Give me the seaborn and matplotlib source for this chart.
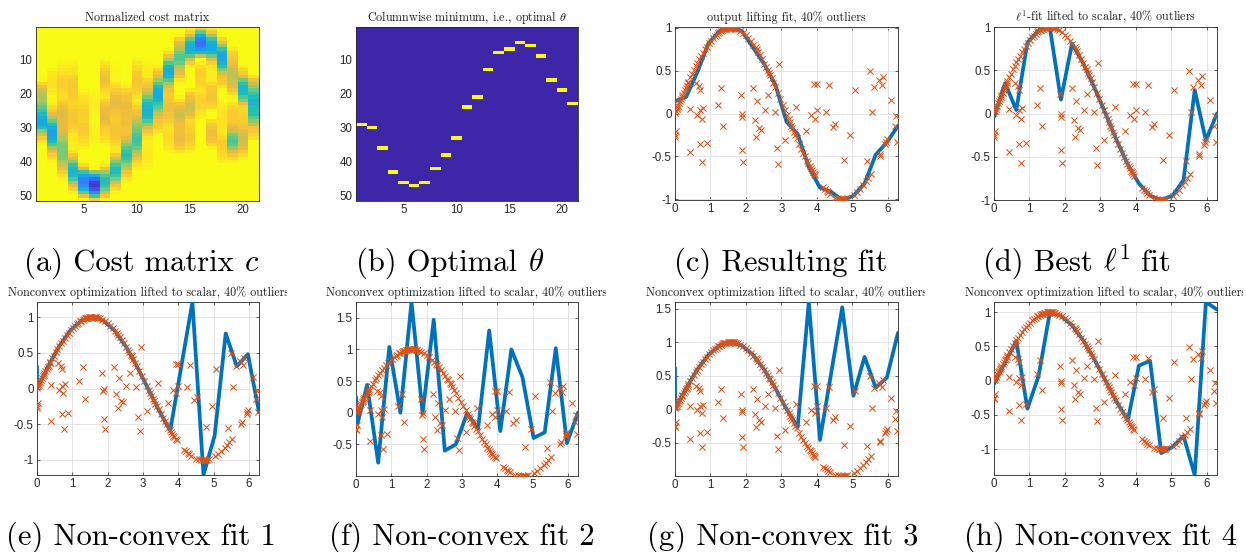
import numpy as np
import pandas as pd
import matplotlib
matplotlib.use("Agg")
import matplotlib.pyplot as plt
from matplotlib.colors import LinearSegmentedColormap
from matplotlib.transforms import Bbox, TransformedBbox
import seaborn as sns

# ---------------------------------------------------------------- data
# samples lying on the signal
inlier_x = [0.01, 0.03, 0.05, 0.07, 0.09, 0.12, 0.14, 0.17, 0.19, 0.21, 0.24, 0.27,
            0.30, 0.33, 0.38, 0.43, 0.48, 0.53, 0.58, 0.63, 0.68, 0.73, 0.79, 0.85,
            0.90, 0.96, 1.02, 1.07, 1.12, 1.17, 1.21, 1.25, 1.29, 1.32, 1.36, 1.39,
            1.42, 1.45, 1.48, 1.51, 1.54, 1.57, 1.60, 1.63, 1.66, 1.69, 1.72, 1.78,
            1.84, 1.92, 2.00, 2.07, 2.14, 2.21, 2.27, 2.30, 2.34, 2.40, 2.46, 2.52,
            2.57, 2.61, 2.65, 2.68, 2.72, 2.77, 2.83, 2.90, 2.97, 3.04, 3.10, 3.16,
            3.20, 3.24, 3.28, 3.31, 3.35, 3.39, 3.44, 3.50, 3.56, 3.62, 3.67, 3.72,
            3.76, 3.80, 3.83, 3.86, 3.89, 3.92, 3.95, 4.17, 4.22, 4.27, 4.31, 4.36,
            4.51, 4.58, 4.64, 4.69, 4.72, 4.75, 4.78, 4.81, 4.86, 5.03, 5.13, 5.21,
            5.31, 5.37, 5.44, 5.51, 5.77, 5.79, 5.95, 5.98]
inlier_y = [0.01, 0.03, 0.05, 0.07, 0.09, 0.12, 0.14, 0.17, 0.19, 0.21, 0.24, 0.27,
            0.30, 0.32, 0.37, 0.42, 0.46, 0.51, 0.55, 0.59, 0.63, 0.67, 0.71, 0.75,
            0.78, 0.82, 0.85, 0.88, 0.90, 0.92, 0.94, 0.95, 0.96, 0.97, 0.98, 0.98,
            0.99, 0.99, 1.00, 1.00, 1.00, 1.00, 1.00, 1.00, 1.00, 0.99, 0.99, 0.98,
            0.96, 0.94, 0.91, 0.88, 0.84, 0.80, 0.77, 0.75, 0.72, 0.68, 0.63, 0.58,
            0.54, 0.51, 0.47, 0.45, 0.41, 0.36, 0.31, 0.24, 0.17, 0.10, 0.04, -0.02,
            -0.06, -0.10, -0.14, -0.17, -0.21, -0.25, -0.29, -0.35, -0.41, -0.46, -0.50, -0.55,
            -0.58, -0.61, -0.63, -0.66, -0.68, -0.70, -0.72, -0.86, -0.88, -0.90, -0.92, -0.94,
            -0.98, -0.99, -1.00, -1.00, -1.00, -1.00, -1.00, -1.00, -0.99, -0.95, -0.92, -0.88,
            -0.83, -0.79, -0.75, -0.70, -0.49, -0.47, -0.33, -0.30]

# corrupted samples
outlier_x = [0.00, 0.02, 0.01, 0.41, 0.41, 0.63, 0.71, 0.78, 0.75, 0.70, 0.89, 0.77,
             0.60, 0.68, 0.70, 0.36, 1.20, 1.31, 1.35, 1.85, 1.90, 1.88, 1.90, 1.92,
             2.19, 2.25, 2.28, 2.31, 2.37, 2.43, 2.53, 2.62, 2.81, 2.86, 2.91, 2.93,
             3.11, 3.42, 3.70, 3.84, 3.94, 3.93, 4.00, 4.00, 4.25, 4.34, 4.45, 4.52,
             4.77, 4.94, 5.06, 5.41, 5.50, 5.56, 5.62, 5.74, 5.86, 5.83, 5.93, 6.10,
             6.19, 6.24, 6.26]
outlier_y = [-0.25, -0.20, -0.27, -0.45, 0.05, -0.02, 0.04, 0.06, -0.06, -0.35, -0.34, -0.57,
             0.35, 0.32, 0.27, 0.35, 0.10, 0.30, -0.14, 0.22, -0.01, -0.04, -0.42, -0.57,
             0.30, -0.07, -0.27, 0.15, -0.17, -0.19, 0.04, 0.22, 0.02, -0.40, -0.59, 0.58,
             -0.31, 0.08, -0.20, -0.02, -0.06, 0.34, 0.34, 0.04, 0.02, 0.33, -0.16, -0.12,
             -0.54, -0.25, 0.27, -0.55, 0.49, 0.02, 0.31, 0.39, 0.43, 0.33, -0.36, 0.16,
             -0.15, -0.03, -0.33]

# lifting grid: 21 nodes in x, 51 levels in theta
n_nodes = 21
n_levels = 51
theta_min, theta_max = -1.2, 1.2
loss_cap = 0.22

# row index (1-based) of the columnwise minimum
optimal_rows = [29, 30, 36, 43, 46, 47, 46, 42, 38, 33, 24, 21, 13, 8, 7, 5, 6, 9, 16, 19, 23]

node_x = [0.000, 0.314, 0.628, 0.942, 1.257, 1.571, 1.885, 2.199, 2.513, 2.827, 3.142,
          3.456, 3.770, 4.084, 4.398, 4.712, 5.027, 5.341, 5.655, 5.969, 6.283]

fit_l1 = [-0.04, 0.35, 0.04, 0.82, 0.96, 1.00, 0.16, 0.81, 0.58, 0.30, 0.00,
          -0.31, -0.59, -0.81, -0.95, -1.00, -0.95, -0.77, 0.27, -0.31, 0.00]

fit1_x = [0.000, 0.005] + node_x[1:]
fit1_y = [0.31, 0.00, 0.31, 0.59, 0.81, 0.95, 1.00, 0.95, 0.81, 0.59, 0.31, 0.00,
          -0.31, -0.59, 0.31, 1.21, -1.21, -0.66, 0.77, 0.31, 0.48, -0.33]

fit2_x = [0.000, 0.040] + node_x[1:]
fit2_y = [0.25, -0.18, 0.44, -0.79, 1.04, 0.00, 1.75, -0.01, 1.47, -0.60, -0.50, -0.01,
          -0.25, 1.30, -0.29, 1.00, 0.56, -0.40, -0.31, 1.02, -0.48, 0.00]

fit3_x = [0.000, 0.005] + node_x[1:]
fit3_y = [0.62, 0.00, 0.31, 0.59, 0.81, 0.95, 1.00, 0.95, 0.81, 0.59, 0.31, 0.00,
          -0.27, 1.60, -0.46, 0.53, 1.52, 0.20, 0.78, 0.32, 0.47, 1.14]

fit4_y = [-0.05, 0.27, 0.58, -0.41, 0.07, 0.99, 0.95, 0.81, 0.59, 0.31, 0.00,
          -0.31, -0.58, 0.22, 0.29, -1.06, -0.97, -0.81, -1.38, 1.15, 1.04]

# ---------------------------------------------------------------- style
parula = LinearSegmentedColormap.from_list("parula", [
    (0.00, (0.242, 0.150, 0.660)),
    (0.10, (0.279, 0.263, 0.900)),
    (0.20, (0.247, 0.415, 0.992)),
    (0.30, (0.145, 0.565, 0.951)),
    (0.40, (0.072, 0.680, 0.875)),
    (0.50, (0.133, 0.741, 0.722)),
    (0.60, (0.347, 0.795, 0.539)),
    (0.70, (0.650, 0.785, 0.365)),
    (0.80, (0.924, 0.730, 0.253)),
    (0.90, (0.985, 0.800, 0.180)),
    (1.00, (0.977, 0.984, 0.081)),
])

BLUE = "#0072BD"
ORANGE = "#D95319"
AXCOL = "#262626"

sns.set_style("white")
plt.rcParams.update({
    "font.family": ["Liberation Sans", "DejaVu Sans"],
    "mathtext.fontset": "cm",
    "axes.unicode_minus": False,
})

W, H = 1246, 552
fig = plt.figure(figsize=(W / 100, H / 100), dpi=100)
renderer = fig.canvas.get_renderer()


def add_axes(left, top, right, bottom):
    return fig.add_axes([left / W, 1 - bottom / H, (right - left) / W, (bottom - top) / H])


def style_axes(ax, grid=True):
    for s in ax.spines.values():
        s.set_visible(True)
        s.set_color(AXCOL)
        s.set_linewidth(0.6)
    ax.tick_params(direction="in", length=2.5, width=0.5, color=AXCOL,
                   labelsize=8.3, labelcolor=AXCOL, pad=2.5,
                   top=True, right=True, bottom=True, left=True)
    for lab in ax.get_xticklabels() + ax.get_yticklabels():
        lab.set_fontfamily("Liberation Sans")
    if grid:
        ax.grid(True, color="#DFDFDF", linewidth=0.6)
        ax.set_axisbelow(True)


def set_title(ax, text, clip_left, clip_right):
    t = ax.set_title(text, family="cmr10", fontsize=8.7, color="#1a1a1a", pad=4.0)
    box = Bbox.from_extents(clip_left / W, 0, clip_right / W, 1)
    t.set_clip_box(TransformedBbox(box, fig.transFigure))
    t.set_clip_on(True)


CAP_SIZE = 22


def caption(xc, yb, words):
    """Words are laid out left to right, separated by one cmr10 space, centred on xc."""
    texts = [fig.text(0, 1 - yb / H, w, family="cmr10", fontsize=CAP_SIZE,
                      ha="left", va="baseline", color="black") for w in words]
    probe_a = fig.text(0, 0, "x x", family="cmr10", fontsize=CAP_SIZE)
    probe_b = fig.text(0, 0, "xx", family="cmr10", fontsize=CAP_SIZE)
    space = (probe_a.get_window_extent(renderer).width
             - probe_b.get_window_extent(renderer).width)
    probe_a.remove()
    probe_b.remove()
    widths = [t.get_window_extent(renderer).width for t in texts]
    total = sum(widths) + space * (len(words) - 1)
    x = xc - total / 2
    for t, w in zip(texts, widths):
        t.set_x(x / W)
        x += w + space


def fmt(v):
    return f"{v:g}"


all_x = np.array(inlier_x + outlier_x)
all_y = np.array(inlier_y + outlier_y)
theta = np.linspace(theta_min, theta_max, n_levels)
nodes = np.linspace(0, 2 * np.pi, n_nodes)
spacing = nodes[1] - nodes[0]

# truncated quadratic cost of each level at each node, hat-weighted by sample position
weights = np.clip(1 - np.abs(all_x[:, None] - nodes[None, :]) / spacing, 0, None)
residual = np.minimum((all_y[:, None] - theta[None, :]) ** 2, loss_cap ** 2)
cost = residual.T @ weights
cost = cost / cost.max(axis=0, keepdims=True)

argmin_map = np.zeros((n_levels, n_nodes))
for j, r in enumerate(optimal_rows):
    argmin_map[r - 1, j] = 1.0

fit_lifted = [theta[r - 1] for r in optimal_rows]

samples = pd.DataFrame({"x": all_x, "y": all_y})


def heat_panel(ax, mat):
    sns.heatmap(mat, ax=ax, cmap=parula, cbar=False, vmin=0, vmax=1,
                xticklabels=False, yticklabels=False)
    ax.set_xticks([4.5, 9.5, 14.5, 19.5])
    ax.set_xticklabels(["5", "10", "15", "20"], rotation=0)
    ax.set_yticks([9.5, 19.5, 29.5, 39.5, 49.5])
    ax.set_yticklabels(["10", "20", "30", "40", "50"], rotation=0)
    ax.set_xlabel("")
    ax.set_ylabel("")
    style_axes(ax, grid=False)


def fit_panel(ax, fx, fy, yticks):
    sns.lineplot(x=fx, y=fy, ax=ax, color=BLUE, linewidth=2.7, sort=False,
                 estimator=None, zorder=3)
    sns.scatterplot(data=samples, x="x", y="y", ax=ax, marker="x", color=ORANGE,
                    s=20, linewidth=0.75, zorder=4)
    ylo = min(min(fy), samples["y"].min())
    yhi = max(max(fy), samples["y"].max())
    ax.set_xlim(0, 2 * np.pi)
    ax.set_ylim(ylo, yhi)
    ax.set_xticks(range(7))
    ax.set_xticklabels([str(i) for i in range(7)])
    ax.set_yticks(yticks)
    ax.set_yticklabels([fmt(v) for v in yticks])
    ax.set_xlabel("")
    ax.set_ylabel("")
    style_axes(ax)


ticks_unit = [-1, -0.5, 0, 0.5, 1]
ticks_wide = [-0.5, 0, 0.5, 1, 1.5]
nonconvex_title = "Nonconvex optimization lifted to scalar, 40% outliers"

# top row
ax_a = add_axes(36, 27, 259, 201)
heat_panel(ax_a, cost)
set_title(ax_a, "Normalized cost matrix", 0, 287)

ax_b = add_axes(356, 27, 578, 201)
heat_panel(ax_b, argmin_map)
set_title(ax_b, r"Columnwise minimum, i.e., optimal $\theta$", 319, 606)

ax_c = add_axes(675, 27, 898, 200)
fit_panel(ax_c, node_x, fit_lifted, ticks_unit)
set_title(ax_c, "output lifting fit, 40% outliers", 638, 925)

ax_d = add_axes(994, 27, 1217, 200)
fit_panel(ax_d, node_x, fit_l1, ticks_unit)
set_title(ax_d, r"$\ell^1$-fit lifted to scalar, 40% outliers", 957, 1243)

# bottom row
ax_e = add_axes(37, 302, 259, 475)
fit_panel(ax_e, fit1_x, fit1_y, ticks_unit)
set_title(ax_e, nonconvex_title, 0, 287)

ax_f = add_axes(356, 302, 578, 476)
fit_panel(ax_f, fit2_x, fit2_y, ticks_wide)
set_title(ax_f, nonconvex_title, 319, 606)

ax_g = add_axes(675, 302, 898, 476)
fit_panel(ax_g, fit3_x, fit3_y, ticks_wide)
set_title(ax_g, nonconvex_title, 638, 925)

ax_h = add_axes(994, 302, 1217, 475)
fit_panel(ax_h, node_x, fit4_y, ticks_unit)
set_title(ax_h, nonconvex_title, 957, 1243)

caption(141.5, 271, ["(a) Cost matrix", r"$c$"])
caption(450, 271, ["(b) Optimal", r"$\theta$"])
caption(781, 271, ["(c) Resulting fit"])
caption(1077, 271, ["(d) Best", r"$\ell^1$", "fit"])
caption(141, 545, ["(e) Non-convex fit 1"])
caption(462, 545, ["(f) Non-convex fit 2"])
caption(783, 545, ["(g) Non-convex fit 3"])
caption(1101, 545, ["(h) Non-convex fit 4"])

fig.savefig("out.png", dpi=100)
